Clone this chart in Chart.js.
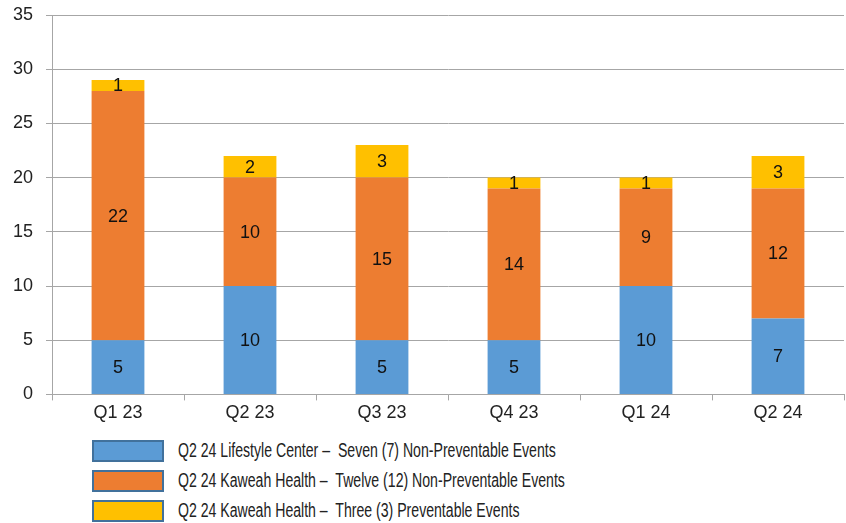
<!DOCTYPE html>
<html>
<head>
<meta charset="utf-8">
<script src="https://cdn.jsdelivr.net/npm/chart.js@4/dist/chart.umd.min.js"></script>
<style>
  body { margin: 0; background: #fff; font-family: "Liberation Sans", sans-serif; }
  #wrap { position: relative; width: 846px; height: 426px; }
  #legend { position: absolute; left: 92px; top: 440px; }
  .row { height: 30px; display: flex; align-items: flex-start; }
  .box { width: 68px; height: 18px; border: 2px solid #41719C; margin-right: 14px; }
  .txt { font-size: 20px; line-height: 21px; color: #222; white-space: pre;
         display: inline-block; transform: scaleX(0.705); transform-origin: left center; }
</style>
</head>
<body>
<div id="wrap"><canvas id="chart"></canvas></div>
<div id="legend"></div>
<script>
var quarters = ['Q1 23', 'Q2 23', 'Q3 23', 'Q4 23', 'Q1 24', 'Q2 24'];
// bar heights as drawn in the picture
var lifestyleNonPrev = [5, 10, 5, 5, 10, 7];
var kaweahNonPrev = [23, 10, 15, 14, 9, 12];
var kaweahPrev = [1, 2, 3, 1, 1, 3];
// numbers printed on the segments
var lifestyleLabels = ['5', '10', '5', '5', '10', '7'];
var kaweahNonPrevLabels = ['22', '10', '15', '14', '9', '12'];
var kaweahPrevLabels = ['1', '2', '3', '1', '1', '3'];
var seriesNames = [
    'Q2 24 Lifestyle Center \u2013  Seven (7) Non-Preventable Events',
    'Q2 24 Kaweah Health \u2013  Twelve (12) Non-Preventable Events',
    'Q2 24 Kaweah Health \u2013  Three (3) Preventable Events'
];
var seriesColors = ['#5B9BD5', '#ED7D31', '#FFC000'];

// draws the number in the middle of each bar segment
var barLabels = {
    id: 'barLabels',
    afterDatasetsDraw: function (chart) {
        var ctx = chart.ctx;
        ctx.save();
        ctx.font = '18px "Liberation Sans", sans-serif';
        ctx.fillStyle = '#111';
        ctx.textAlign = 'center';
        ctx.textBaseline = 'middle';
        chart.data.datasets.forEach(function (ds, i) {
            chart.getDatasetMeta(i).data.forEach(function (bar, j) {
                var mid = (bar.y + bar.base) / 2;
                ctx.fillText(ds.segLabels[j], bar.x, mid + 1);
            });
        });
        ctx.restore();
    }
};

var ctx = document.getElementById('chart').getContext('2d');
var myChart = new Chart(ctx, {
    type: 'bar',
    data: {
        labels: quarters,
        datasets: [
            { label: seriesNames[0], data: lifestyleNonPrev, segLabels: lifestyleLabels, backgroundColor: seriesColors[0] },
            { label: seriesNames[1], data: kaweahNonPrev, segLabels: kaweahNonPrevLabels, backgroundColor: seriesColors[1] },
            { label: seriesNames[2], data: kaweahPrev, segLabels: kaweahPrevLabels, backgroundColor: seriesColors[2] }
        ]
    },
    options: {
        responsive: true,
        maintainAspectRatio: false,
        animation: false,
        layout: { padding: { top: 15, right: 2, left: 0, bottom: 0 } },
        datasets: { bar: { barPercentage: 0.4, categoryPercentage: 1 } },
        plugins: {
            legend: { display: false },
            tooltip: { enabled: false }
        },
        scales: {
            x: {
                stacked: true,
                grid: { drawOnChartArea: false, color: '#a6a6a6', tickLength: 6 },
                border: { color: '#a6a6a6' },
                ticks: { color: '#222', font: { size: 18, family: '"Liberation Sans", sans-serif' }, padding: 2 }
            },
            y: {
                stacked: true,
                min: 0,
                max: 35,
                afterFit: function (scale) { scale.width = 52; scale.paddingTop = 0; },
                ticks: { stepSize: 5, color: '#222', font: { size: 18, family: '"Liberation Sans", sans-serif' }, padding: 13 },
                grid: { color: '#a6a6a6', tickLength: 6 },
                border: { color: '#a6a6a6' }
            }
        }
    },
    plugins: [barLabels]
});

var legend = document.getElementById('legend');
seriesNames.forEach(function (name, i) {
    var row = document.createElement('div');
    row.className = 'row';
    var box = document.createElement('div');
    box.className = 'box';
    box.style.background = seriesColors[i];
    var txt = document.createElement('span');
    txt.className = 'txt';
    txt.textContent = name;
    row.appendChild(box);
    row.appendChild(txt);
    legend.appendChild(row);
});
</script>
</body>
</html>
